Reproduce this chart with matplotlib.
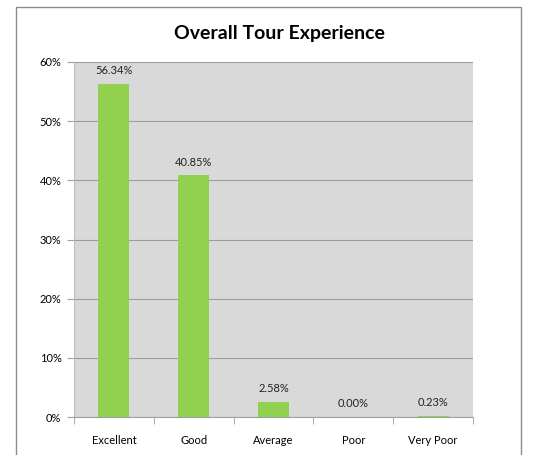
import numpy as np
import matplotlib.pyplot as plt
from matplotlib.patches import Rectangle

plt.rcParams['font.family'] = ['Lato', 'DejaVu Sans']

categories = ["Excellent", "Good", "Average", "Poor", "Very Poor"]
values = [56.34, 40.85, 2.58, 0.00, 0.23]
y_ticks = [0, 10, 20, 30, 40, 50, 60]

fig = plt.figure(figsize=(5.46, 4.55), dpi=100)
fig.patches.append(Rectangle((16/546, -0.1), (521-16)/546, 1.1 - 7/455, transform=fig.transFigure,
                             fill=False, edgecolor="#8c8c8c", linewidth=1))
ax = fig.add_axes([74/546, 38/455, 399/546, 355/455])
ax.set_facecolor("#d9d9d9")

x = np.arange(len(categories))
ax.bar(x, values, width=0.39, color="#92d050", zorder=3)
for xi, v in zip(x, values):
    ax.text(xi, v + 1.3, f"{v:.2f}%", ha="center", va="bottom", fontsize=8, color="#222222", zorder=4)

ax.set_xlim(-0.5, len(categories) - 0.5)
ax.set_ylim(0, 60)
ax.set_yticks(y_ticks)
ax.set_yticklabels([f"{t}%" for t in y_ticks], fontsize=8)
ax.yaxis.grid(True, color="#9c9c9c", linewidth=0.8, zorder=1)
ax.set_xticks(x)
ax.set_xticklabels(categories, fontsize=8)
ax.tick_params(axis="x", length=0, pad=13)
ax.set_xticks(np.arange(-0.5, len(categories)), minor=True)
ax.tick_params(axis="x", which="minor", length=5, color="#a0a0a0")
ax.tick_params(axis="y", length=5, color="#a0a0a0", pad=4)
for s in ["top", "right"]:
    ax.spines[s].set_visible(False)
ax.spines["left"].set_color("#bdbdbd")
ax.spines["bottom"].set_color("#a0a0a0")

fig.text(279/546, 1 - 33/455, "Overall Tour Experience", ha="center", va="center",
         fontsize=14, fontweight="bold")

fig.savefig("out.png", dpi=100)
